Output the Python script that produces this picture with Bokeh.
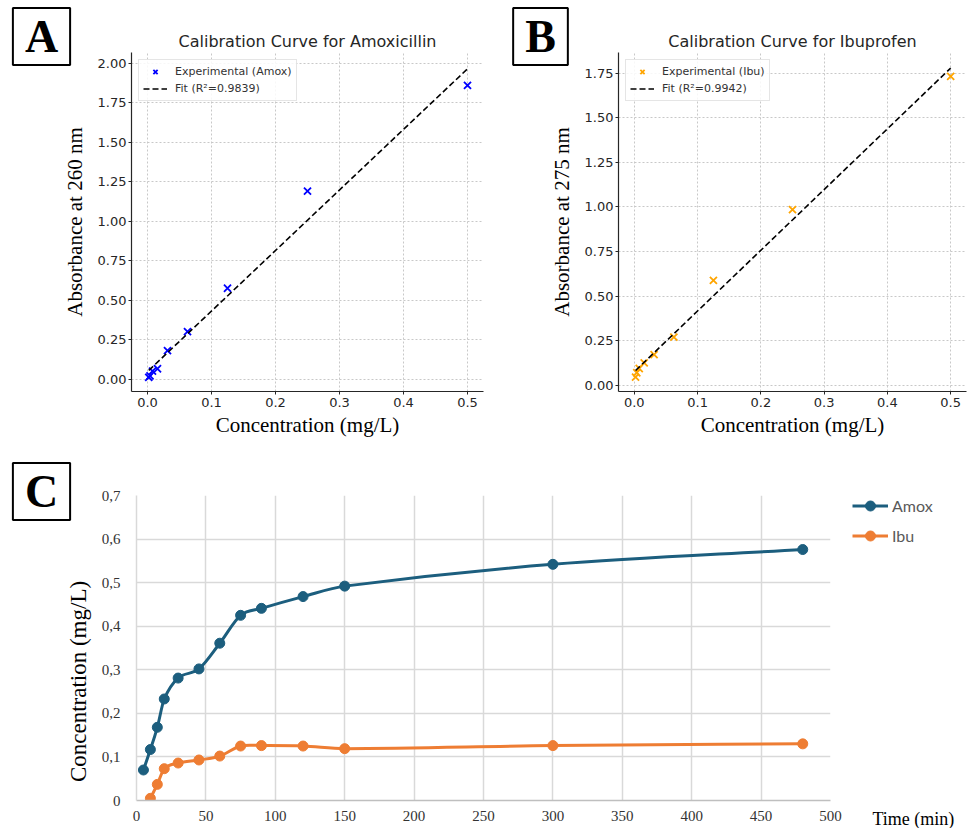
import numpy as np
from bokeh.plotting import figure
from bokeh.models import (Label, Legend, LegendItem, FixedTicker, NumeralTickFormatter,
                          CustomJSTickFormatter, GridBox)
from bokeh.layouts import column, row
from bokeh.embed import file_html
from bokeh.resources import INLINE

# ---------------- data ----------------
conc = [0.00195, 0.0039, 0.0078, 0.0156, 0.03125, 0.0625, 0.125, 0.25, 0.5]
abs_amox = [0.01, 0.02, 0.05, 0.065, 0.18, 0.30, 0.575, 1.19, 1.86]
abs_ibu = [0.046, 0.07, 0.094, 0.125, 0.172, 0.27, 0.588, 0.984, 1.731]
r2_amox = "0.9839"
r2_ibu = "0.9942"

time_amox = [5, 10, 15, 20, 30, 45, 60, 75, 90, 120, 150, 300, 480]
c_amox = [0.07, 0.117, 0.168, 0.233, 0.281, 0.302, 0.361, 0.425, 0.441, 0.468, 0.492, 0.542, 0.576]
time_ibu = [10, 15, 20, 30, 45, 60, 75, 90, 120, 150, 300, 480]
c_ibu = [0.005, 0.037, 0.073, 0.086, 0.093, 0.102, 0.125, 0.126, 0.125, 0.119, 0.126, 0.130]

x_ticks_cal = [0.0, 0.1, 0.2, 0.3, 0.4, 0.5]
y_ticks_amox = [0, 0.25, 0.5, 0.75, 1.0, 1.25, 1.5, 1.75, 2.0]
y_ticks_ibu = [0, 0.25, 0.5, 0.75, 1.0, 1.25, 1.5, 1.75]
x_ticks_time = [0, 50, 100, 150, 200, 250, 300, 350, 400, 450, 500]
y_ticks_time = [0, 0.1, 0.2, 0.3, 0.4, 0.5, 0.6, 0.7]

SANS = "DejaVu Sans"
SERIF = "Liberation Serif"
DARK = "#262626"
COL_AMOX = "#1c5e7e"
COL_IBU = "#ee7d33"


def calib(title, yl, y_range, yticks, conc, absb, color, name, r2, width, mbl, mbr):
    p = figure(width=width, height=440, x_range=(-0.025, 0.525), y_range=y_range,
               output_backend="svg", toolbar_location=None,
               min_border_left=mbl, min_border_right=mbr, min_border_top=52,
               min_border_bottom=49, title=title)
    p.title.text_font = SANS
    p.title.text_font_size = "16px"
    p.title.text_font_style = "normal"
    p.title.text_color = DARK
    p.title.align = "center"
    p.title.standoff = 4
    p.outline_line_color = None
    p.background_fill_color = "white"
    p.border_fill_color = "white"
    for g in (p.xgrid, p.ygrid):
        g.grid_line_color = "#c8c8c8"
        g.grid_line_dash = "2 2"
        g.grid_line_width = 1
    p.xaxis.ticker = FixedTicker(ticks=x_ticks_cal)
    p.yaxis.ticker = FixedTicker(ticks=yticks)
    p.xaxis.formatter = NumeralTickFormatter(format="0.0")
    p.yaxis.formatter = NumeralTickFormatter(format="0.00")
    for ax in (p.xaxis, p.yaxis):
        ax.axis_line_color = DARK
        ax.axis_line_width = 1.2
        ax.major_tick_line_color = DARK
        ax.major_tick_out = 3
        ax.major_tick_in = 0
        ax.minor_tick_line_color = None
        ax.major_label_text_font = SANS
        ax.major_label_text_font_size = "13px"
        ax.major_label_text_color = DARK
        ax.axis_label_text_font = SERIF
        ax.axis_label_text_font_size = "21px"
        ax.axis_label_text_font_style = "normal"
        ax.axis_label_text_color = "black"
    p.xaxis.axis_label = "Concentration (mg/L)"
    p.yaxis.axis_label = yl
    p.xaxis.major_label_standoff = 3
    p.yaxis.major_label_standoff = 2
    p.xaxis.axis_label_standoff = 3
    p.yaxis.axis_label_standoff = 8

    x = np.array(conc)
    y = np.array(absb)
    m, b = np.polyfit(x, y, 1)
    fx = [x.min(), x.max()]
    fy = [m * fx[0] + b, m * fx[1] + b]
    sc = p.scatter(conc, absb, marker="x", size=10, line_color=color, line_width=1.8)
    ln = p.line(fx, fy, line_color="black", line_dash="6 3", line_width=1.6)
    leg = Legend(items=[LegendItem(label=f"Experimental ({name})", renderers=[sc]),
                        LegendItem(label=f"Fit (R\u00b2={r2})", renderers=[ln])],
                 location="top_left", margin=7, padding=4, spacing=2,
                 label_height=15, glyph_height=15, glyph_width=24, label_standoff=8,
                 label_text_font=SANS, label_text_font_size="11px", label_text_color="#333333",
                 border_line_color="#cccccc", border_line_width=1,
                 background_fill_alpha=0.85)
    p.add_layout(leg, "center")
    return p


pA = calib("Calibration Curve for Amoxicillin", "Absorbance at 260 nm", (-0.079, 2.068),
           y_ticks_amox, conc, abs_amox, "blue", "Amox", r2_amox, 485, 131, 2)
pB = calib("Calibration Curve for Ibuprofen", "Absorbance at 275 nm", (-0.035, 1.865),
           y_ticks_ibu, conc, abs_ibu, "orange", "Ibu", r2_ibu, 484, 133, 3)

# ---------------- panel C ----------------
pC = figure(width=969, height=388, x_range=(0, 500), y_range=(0, 0.7),
            output_backend="svg", toolbar_location=None,
            min_border_left=136, min_border_right=139, min_border_top=55, min_border_bottom=28)
pC.outline_line_color = None
for g in (pC.xgrid, pC.ygrid):
    g.grid_line_color = "#d9d9d9"
    g.grid_line_width = 1.5
pC.xaxis.ticker = FixedTicker(ticks=x_ticks_time)
pC.yaxis.ticker = FixedTicker(ticks=y_ticks_time)
pC.yaxis.formatter = CustomJSTickFormatter(code="return tick === 0 ? '0' : tick.toFixed(1).replace('.', ',');")
for ax in (pC.xaxis, pC.yaxis):
    ax.major_tick_line_color = None
    ax.minor_tick_line_color = None
    ax.major_tick_out = 0
    ax.major_label_text_font = SERIF
    ax.major_label_text_font_size = "15px"
    ax.major_label_text_color = "#333333"
pC.xaxis.axis_line_color = "#bfbfbf"
pC.yaxis.axis_line_color = "#d9d9d9"
pC.xaxis.axis_line_width = 1.5
pC.yaxis.axis_line_width = 1.5
pC.xaxis.major_label_standoff = 10
pC.yaxis.major_label_standoff = 16


def smooth(p, xs, ys, color):
    # smoothed connecting line (cubic Hermite through the data points), then the markers
    xs = np.asarray(xs, float)
    ys = np.asarray(ys, float)
    n = len(xs)
    slope = np.empty(n)
    slope[1:-1] = (ys[2:] - ys[:-2]) / (xs[2:] - xs[:-2])
    slope[0] = (ys[1] - ys[0]) / (xs[1] - xs[0])
    slope[-1] = (ys[-1] - ys[-2]) / (xs[-1] - xs[-2])
    dx = np.diff(xs)
    cx0 = xs[:-1] + dx / 3
    cy0 = ys[:-1] + slope[:-1] * dx / 3
    cx1 = xs[1:] - dx / 3
    cy1 = ys[1:] - slope[1:] * dx / 3
    p.bezier(x0=xs[:-1], y0=ys[:-1], x1=xs[1:], y1=ys[1:],
             cx0=cx0, cy0=cy0, cx1=cx1, cy1=cy1, line_color=color, line_width=3)
    p.scatter(xs, ys, size=10, fill_color=color, line_color=color)


smooth(pC, time_amox, c_amox, COL_AMOX)
smooth(pC, time_ibu, c_ibu, COL_IBU)

main = column(row(pA, pB), pC)

# ---------------- overlay for free texts and the C legend (page pixel coordinates) ----------------
ov = figure(width=969, height=828, x_range=(0, 969), y_range=(828, 0),
            x_axis_type=None, y_axis_type=None, output_backend="svg", toolbar_location=None,
            min_border=0, outline_line_color=None,
            background_fill_color=None, border_fill_color=None)

# legend keys for panel C: hidden copies of the series (not drawn, only their legend swatches)
kl_a = ov.line(time_amox, c_amox, line_color=COL_AMOX, line_width=3, visible=False)
ks_a = ov.scatter(time_amox, c_amox, size=10, fill_color=COL_AMOX, line_color=COL_AMOX, visible=False)
kl_i = ov.line(time_ibu, c_ibu, line_color=COL_IBU, line_width=3, visible=False)
ks_i = ov.scatter(time_ibu, c_ibu, size=10, fill_color=COL_IBU, line_color=COL_IBU, visible=False)
legC = Legend(items=[LegendItem(label="Amox", renderers=[kl_a, ks_a]),
                     LegendItem(label="Ibu", renderers=[kl_i, ks_i])],
              location=(852, 280), margin=0, padding=0, spacing=5,
              label_height=25, glyph_height=25, glyph_width=36, label_standoff=4,
              label_text_font="Lato", label_text_font_size="16px", label_text_color="#595959",
              border_line_color=None, background_fill_alpha=0, inactive_fill_alpha=0)
ov.add_layout(legC, "center")


def panel_letter(letter, x, y):
    ov.add_layout(Label(x=x, y=y, text=letter,
                        text_font=SERIF, text_font_style="bold", text_font_size="46px",
                        text_color="black", text_align="center", text_baseline="middle",
                        border_line_color="black", border_line_width=2,
                        background_fill_color="white",
                        padding=dict(left=12, right=12, top=3, bottom=3)))


panel_letter("A", 41, 36)
panel_letter("B", 540, 36)
panel_letter("C", 41, 491)
ov.add_layout(Label(x=78, y=681, text="Concentration (mg/L)", angle=np.pi / 2,
                    text_font=SERIF, text_font_size="23px", text_color="black",
                    text_align="center", text_baseline="middle"))
ov.add_layout(Label(x=872, y=818, text="Time (min)", text_font=SERIF, text_font_size="18px",
                    text_color="black", text_align="left", text_baseline="middle"))

page = GridBox(children=[(main, 0, 0), (ov, 0, 0)])
open("out.html", "w").write(file_html(page, INLINE))
